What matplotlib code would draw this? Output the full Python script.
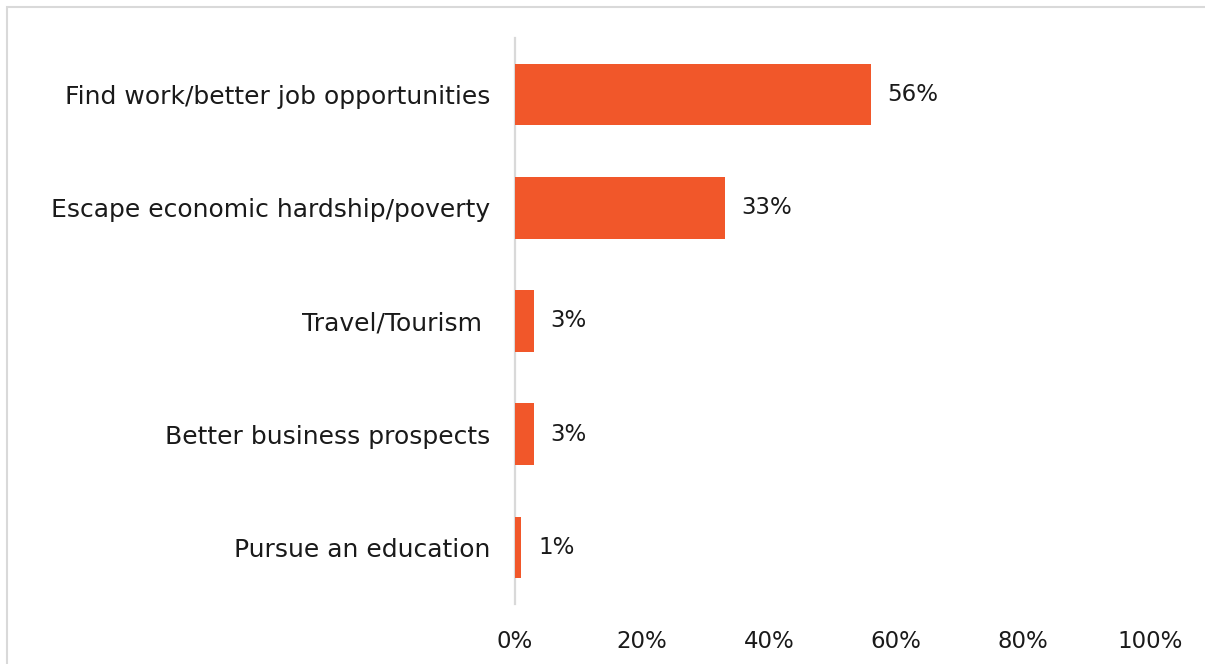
import matplotlib.pyplot as plt
from matplotlib.patches import Rectangle

categories = [
    "Find work/better job opportunities",
    "Escape economic hardship/poverty",
    "Travel/Tourism ",
    "Better business prospects",
    "Pursue an education",
]
values = [56, 33, 3, 3, 1]
x_ticks = [0, 20, 40, 60, 80, 100]
x_tick_labels = ["0%", "20%", "40%", "60%", "80%", "100%"]

BAR_COLOR = "#F1572A"
TEXT_COLOR = "#1a1a1a"
FONT = ["DejaVu Sans"]

fig = plt.figure(figsize=(12.05, 6.64), dpi=100)
ax = fig.add_axes([515 / 1205, 1 - 604 / 664, 635 / 1205, (604 - 38) / 664])

ypos = list(range(len(categories)))
ax.barh(ypos, values, height=0.545, color=BAR_COLOR, zorder=2)

for y, v in zip(ypos, values):
    ax.annotate(f"{v}%", xy=(v, y), xytext=(12, 0), textcoords="offset points",
                va="center", ha="left", fontsize=16.5, color=TEXT_COLOR, family=FONT)

ax.set_xlim(0, 100)
ax.set_ylim(len(categories) - 0.5, -0.5)
ax.set_yticks(ypos)
ax.set_yticklabels(categories, fontsize=18, color=TEXT_COLOR, family=FONT)
ax.set_xticks(x_ticks)
ax.set_xticklabels(x_tick_labels, fontsize=16.5, color=TEXT_COLOR, family=FONT)
ax.tick_params(axis="both", length=0)
ax.tick_params(axis="y", pad=18)
ax.tick_params(axis="x", pad=19)

for side in ("top", "right", "bottom"):
    ax.spines[side].set_visible(False)
ax.spines["left"].set_color("#d9d9d9")
ax.spines["left"].set_linewidth(1.6)
ax.spines["left"].set_zorder(1)

# light frame around the chart area
fig.patches.append(Rectangle((7 / 1205, -0.05), 1.2, 1 - 7 / 664 + 0.05,
                             transform=fig.transFigure, fill=False,
                             edgecolor="#d9d9d9", linewidth=1.5))

fig.savefig("out.png", dpi=100, facecolor="white")
